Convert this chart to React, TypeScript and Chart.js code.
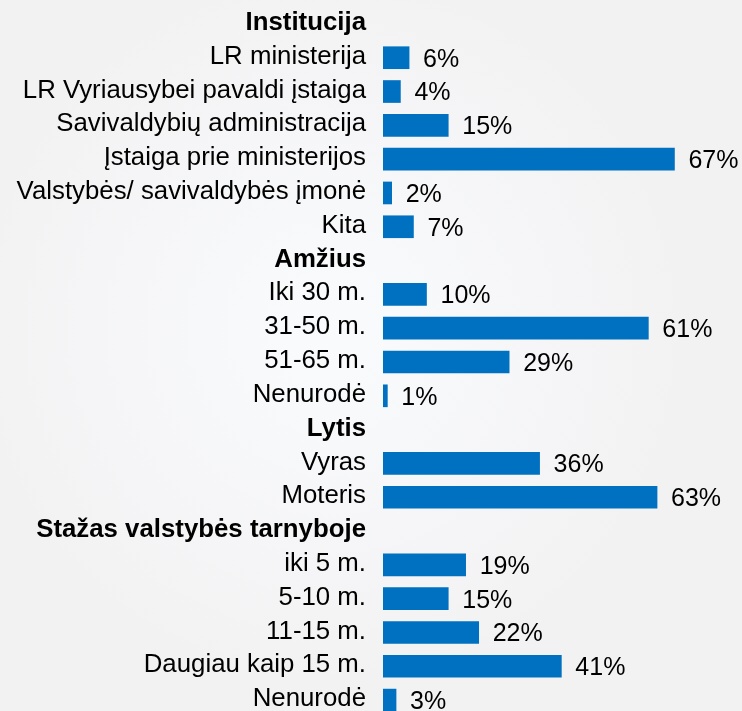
import React, { useEffect, useRef } from "react";
import { Chart, registerables } from "chart.js";

Chart.register(...registerables);

const categories = [
  "Institucija",
  "LR ministerija",
  "LR Vyriausybei pavaldi įstaiga",
  "Savivaldybių administracija",
  "Įstaiga prie ministerijos",
  "Valstybės/ savivaldybės įmonė",
  "Kita",
  "Amžius",
  "Iki 30 m.",
  "31-50 m.",
  "51-65 m.",
  "Nenurodė",
  "Lytis",
  "Vyras",
  "Moteris",
  "Stažas valstybės tarnyboje",
  "iki 5 m.",
  "5-10 m.",
  "11-15 m.",
  "Daugiau kaip 15 m.",
  "Nenurodė",
];

const headerRows = [0, 7, 12, 15];

const values: (number | null)[] = [
  null, 6, 4, 15, 67, 2, 7,
  null, 10, 61, 29, 1,
  null, 36, 63,
  null, 19, 15, 22, 41, 3,
];

const FONT = "'Liberation Sans', Arial, sans-serif";
const BAR_COLOR = "#0070C0";

export default function App() {
  const ref = useRef<HTMLCanvasElement | null>(null);

  useEffect(() => {
    const canvas = ref.current;
    if (!canvas) return;

    const bgPlugin = {
      id: "bg",
      beforeDraw(chart: any) {
        const { ctx, width, height } = chart;
        ctx.save();
        ctx.fillStyle = "#f2f2f3";
        ctx.fillRect(0, 0, width, height);
        const g = ctx.createRadialGradient(330, 330, 40, 330, 330, 360);
        g.addColorStop(0, "rgba(250,251,253,0.9)");
        g.addColorStop(1, "rgba(250,251,253,0)");
        ctx.fillStyle = g;
        ctx.fillRect(0, 0, width, height);
        ctx.restore();
      },
    };

    const valuePlugin = {
      id: "values",
      afterDatasetsDraw(chart: any) {
        const { ctx } = chart;
        const meta = chart.getDatasetMeta(0);
        ctx.save();
        ctx.font = `25px ${FONT}`;
        ctx.fillStyle = "#000000";
        ctx.textAlign = "left";
        ctx.textBaseline = "middle";
        meta.data.forEach((el: any, i: number) => {
          const v = values[i];
          if (v === null || v === undefined) return;
          ctx.fillText(`${v}%`, el.x + 14, el.y + 2);
        });
        ctx.restore();
      },
    };

    const chart = new Chart(canvas, {
      type: "bar",
      data: {
        labels: categories,
        datasets: [
          {
            data: values,
            backgroundColor: BAR_COLOR,
            borderWidth: 0,
            barThickness: 22,
          },
        ],
      },
      options: {
        indexAxis: "y",
        animation: false,
        responsive: false,
        maintainAspectRatio: false,
        layout: { padding: { top: 7, bottom: 3, left: 0, right: 11 } },
        plugins: {
          legend: { display: false },
          tooltip: { enabled: false },
          title: { display: false },
        },
        scales: {
          x: {
            display: false,
            min: 0,
            max: 80,
          },
          y: {
            grid: { display: false, drawTicks: false },
            border: { display: false },
            afterFit(scale: any) {
              scale.width = 383;
              scale.paddingTop = 0;
              scale.paddingBottom = 0;
            },
            ticks: {
              padding: 17,
              labelOffset: -1,
              autoSkip: false,
              color: "#000000",
              font: (ctx: any) => ({
                family: FONT,
                size: 25.8,
                weight: headerRows.includes(ctx.index) ? "bold" : "normal",
              }),
            },
          },
        },
      },
      plugins: [bgPlugin, valuePlugin],
    });

    return () => chart.destroy();
  }, []);

  return (
    <div
      style={{
        position: "fixed",
        left: 0,
        top: 0,
        width: 742,
        height: 711,
        overflow: "hidden",
        background: "#f2f2f3",
      }}
    >
      <canvas ref={ref} width={742} height={720} style={{ display: "block", width: 742, height: 720 }} />
    </div>
  );
}
